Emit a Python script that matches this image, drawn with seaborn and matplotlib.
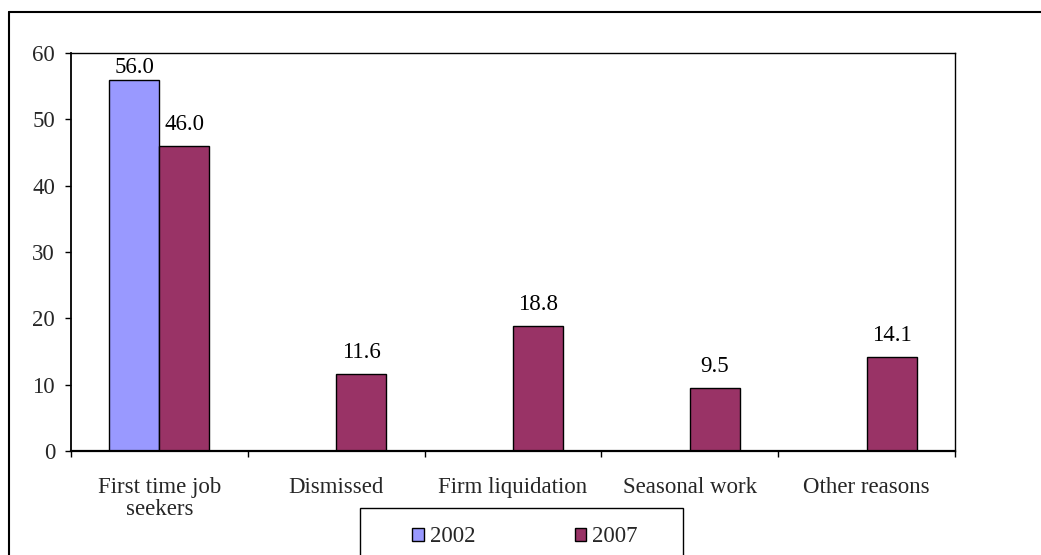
import numpy as np
import pandas as pd
import seaborn as sns
import matplotlib.pyplot as plt
from matplotlib.patches import Rectangle, Patch
from matplotlib.lines import Line2D

# ---- data ----
categories = ["First time job\nseekers", "Dismissed", "Firm liquidation", "Seasonal work", "Other reasons"]
years = ["2002", "2007"]
values_2002 = [56.0, np.nan, np.nan, np.nan, np.nan]
values_2007 = [46.0, 11.6, 18.8, 9.5, 14.1]
y_ticks = [0, 10, 20, 30, 40, 50, 60]
colors = ["#9999FF", "#993366"]

sns.set_style("ticks")
plt.rcParams['font.family'] = ['Liberation Serif', 'DejaVu Serif']

df = pd.DataFrame({
    "category": categories * 2,
    "year": [years[0]] * len(categories) + [years[1]] * len(categories),
    "value": values_2002 + values_2007,
})

W, H = 1041, 555
fig = plt.figure(figsize=(W / 100, H / 100), dpi=100)
fig.patch.set_facecolor("white")
ax = fig.add_axes([71 / W, 1 - 451 / H, (955 - 71) / W, (451 - 53) / H])

sns.barplot(data=df, x="category", y="value", hue="year", order=categories,
            hue_order=years, palette=colors, width=0.565, edgecolor="black",
            linewidth=1, saturation=1, ax=ax, legend=False, errorbar=None)

FS = 16.5
for cont, pad in zip(ax.containers, [1, 8]):
    ax.bar_label(cont, fmt="%.1f", padding=pad, fontsize=FS, color="black")

ax.set_ylim(0, 60)
ax.set_yticks(y_ticks)
ax.set_xlim(-0.5, len(categories) - 0.5)
ax.set_xticks(range(len(categories)))
ax.set_xticklabels(categories, fontsize=FS, linespacing=1.05)
ax.set_xticks(np.arange(-0.5, len(categories)), minor=True)
ax.tick_params(axis="x", which="major", length=0, pad=19, labelsize=FS)
ax.tick_params(axis="x", which="minor", length=4.5, width=1, direction="out", color="black")
ax.tick_params(axis="y", which="major", length=4.5, width=1, direction="out",
               color="black", pad=7, labelsize=FS, left=True)
ax.set_xlabel("")
ax.set_ylabel("")
for side, sp in ax.spines.items():
    sp.set_visible(True)
    sp.set_color("black")
    sp.set_linewidth(1.0)
ax.spines["bottom"].set_linewidth(1.6)
ax.spines["left"].set_linewidth(1.3)
ax.grid(False)

# outer chart frame
fig.add_artist(Line2D([9 / W, 9 / W], [0, 1 - 12 / H], transform=fig.transFigure, color="black", lw=1.5))
fig.add_artist(Line2D([9 / W, 1], [1 - 12 / H, 1 - 12 / H], transform=fig.transFigure, color="black", lw=1.5))

# legend box
fig.add_artist(Rectangle((360 / W, -0.1), (683 - 360) / W, (1 - 508 / H) + 0.1,
                         transform=fig.transFigure, fill=False, edgecolor="black", lw=1))
handles = [Patch(facecolor=c, edgecolor="black", linewidth=1) for c in colors]
fig.legend(handles, years, loc="center left", bbox_to_anchor=(401 / W, 1 - 537 / H),
           ncol=2, frameon=False, borderpad=0, handlelength=0.5, handleheight=0.5,
           handletextpad=0.25, columnspacing=4.35, fontsize=FS)

fig.savefig("out.png", dpi=100)
